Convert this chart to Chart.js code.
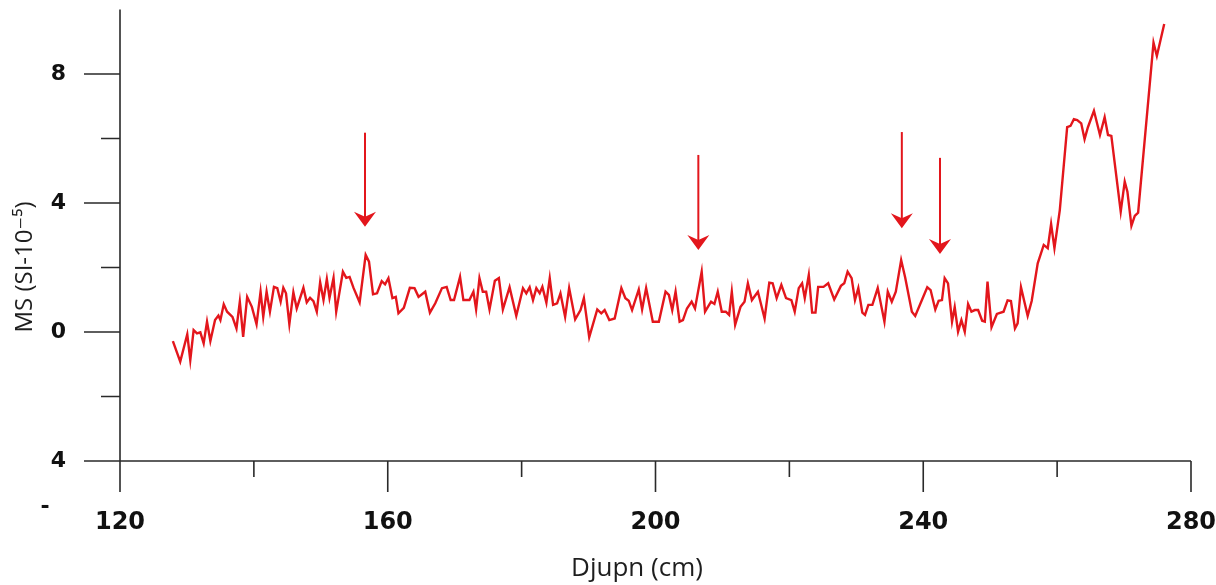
<!DOCTYPE html>
<html><head><meta charset="utf-8">
<script src="https://cdn.jsdelivr.net/npm/chart.js@4.4.1/dist/chart.umd.min.js"></script>
<style>html,body{margin:0;padding:0;background:#fff}#wrap{width:1216px;height:585px;position:relative}canvas{display:block}</style>
</head><body><div id="wrap"><canvas id="c" width="1216" height="585"></canvas></div>
<script>
// Depth (cm) and magnetic susceptibility values
const depth=[127.9,129.0,130.05,130.5,131.0,131.5,132.0,132.5,133.0,133.5,134.2,134.7,135.0,135.5,136.0,136.8,137.4,137.9,138.4,139.0,139.7,140.4,141.0,141.4,141.9,142.4,143.0,143.5,144.0,144.4,144.8,145.3,145.9,146.4,147.4,147.9,148.4,148.9,149.4,149.9,150.4,150.9,151.3,151.9,152.3,153.3,153.8,154.3,154.9,155.8,156.7,157.2,157.8,158.4,159.1,159.6,160.1,160.7,161.2,161.6,162.4,163.3,164.0,
164.6,165.6,166.3,167.1,168.1,168.8,169.4,169.9,170.8,171.3,172.2,172.8,173.2,173.7,174.2,174.7,175.2,176.0,176.6,177.2,178.2,179.2,180.2,180.7,181.2,181.7,182.2,182.7,183.1,183.7,184.2,184.7,185.3,185.8,186.5,187.1,188.0,188.8,189.3,190.1,191.3,191.9,192.4,193.1,193.9,194.9,195.5,196.0,196.5,197.5,198.0,198.6,199.6,200.5,
201.5,202.0,202.5,203.0,203.6,204.1,204.7,205.4,205.9,206.9,207.4,208.3,208.8,209.3,209.9,210.5,211.0,211.4,211.9,212.7,213.3,213.8,214.4,215.3,216.3,217.0,217.5,218.1,218.8,219.5,220.3,220.8,221.4,221.9,222.3,222.9,223.4,223.9,224.3,225.1,225.8,226.7,227.7,228.2,228.7,229.3,229.8,230.3,230.9,231.3,231.8,232.4,233.2,234.2,234.7,235.3,235.9,236.7,237.3,
238.3,238.8,239.8,240.6,241.1,241.8,242.3,242.8,243.2,243.7,244.3,244.7,245.2,245.7,246.2,246.7,247.2,247.7,248.2,248.8,249.2,249.6,250.2,251.0,252.0,252.6,253.1,253.7,254.1,254.6,255.6,256.2,
257.1,258.0,258.6,259.1,259.6,260.4,261.5,262.0,262.5,263.0,263.6,264.1,264.6,265.5,266.4,267.1,267.6,268.1,269.5,270.1,270.5,271.1,271.6,272.1,274.4,274.9,276.0];
const ms=[-0.28,-0.92,-0.07,-0.87,0.06,-0.04,-0.01,-0.35,0.32,-0.28,0.37,0.51,0.37,0.86,0.63,0.47,0.11,0.94,-0.15,1.09,0.78,0.24,1.25,0.47,1.25,0.63,1.40,1.36,0.94,1.37,1.20,0.24,1.23,0.73,1.37,0.92,1.06,0.96,0.63,1.54,0.99,1.64,1.06,1.68,0.63,1.87,1.68,1.71,1.36,0.92,2.39,2.18,1.17,1.20,1.58,1.48,1.67,1.05,1.09,0.58,0.75,1.37,1.36,
1.09,1.25,0.60,0.89,1.36,1.40,0.99,0.99,1.71,0.99,0.99,1.25,0.70,1.67,1.25,1.25,0.70,1.59,1.67,0.70,1.39,0.50,1.36,1.20,1.39,0.99,1.36,1.20,1.40,0.91,1.67,0.84,0.89,1.20,0.47,1.36,0.39,0.68,1.05,-0.16,0.70,0.58,0.68,0.37,0.42,1.36,1.05,0.97,0.68,1.32,0.70,1.36,0.32,0.32,
1.25,1.15,0.68,1.25,0.32,0.37,0.73,0.94,0.73,1.87,0.63,0.94,0.87,1.25,0.63,0.63,0.53,1.25,0.22,0.78,0.94,1.51,0.99,1.25,0.42,1.53,1.51,1.05,1.46,1.05,0.99,0.63,1.36,1.51,1.05,1.77,0.60,0.60,1.40,1.40,1.51,1.01,1.43,1.51,1.87,1.67,0.99,1.36,0.60,0.53,0.84,0.84,1.36,0.32,1.25,0.94,1.25,2.23,1.69,
0.63,0.50,0.99,1.39,1.30,0.70,0.97,0.99,1.67,1.51,0.32,0.77,0.01,0.37,0.01,0.87,0.63,0.68,0.68,0.35,0.32,1.56,0.15,0.56,0.63,0.98,0.96,0.11,0.27,1.39,0.50,0.96,
2.13,2.70,2.60,3.35,2.60,3.78,6.35,6.39,6.60,6.57,6.47,5.98,6.35,6.86,6.11,6.66,6.11,6.08,3.73,4.66,4.35,3.29,3.60,3.70,8.97,8.56,9.55];

const xTicks=[120,160,200,240,280];
const xMinorTicks=[140,180,220,260];
const yTicks=[-4,0,4,8];
const yTickLabels=['4','0','4','8'];
const yMinorTicks=[-2,2,6];
const arrowDepth=[156.6,206.4,236.8,242.5];
const arrowTop=[6.18,5.49,6.20,5.40];
const arrowTip=[3.26,2.54,3.22,2.42];
const xTitle='Djupn (cm)';
const yTitle='MS (SI-10⁻⁵)';
const strayMark='-';

const RED='#e3161c';
const AXIS='#2a2a2a';
const TICKFONT='"DejaVu Sans", "Liberation Sans", sans-serif';

const decor={
  id:'decor',
  afterDraw(chart){
    const {ctx}=chart;
    const xs=chart.scales.x, ys=chart.scales.y;
    const ax=xs.getPixelForValue(xs.min);
    const ay=ys.getPixelForValue(ys.min);
    ctx.save();
    ctx.strokeStyle=AXIS; ctx.lineWidth=1.6; ctx.lineCap='butt';
    ctx.beginPath();
    ctx.moveTo(ax, ys.getPixelForValue(ys.max)); ctx.lineTo(ax, ay+31);
    ctx.moveTo(ax-36, ay); ctx.lineTo(xs.getPixelForValue(xs.max), ay);
    yTicks.forEach(v=>{const p=ys.getPixelForValue(v); ctx.moveTo(ax-36,p); ctx.lineTo(ax,p);});
    yMinorTicks.forEach(v=>{const p=ys.getPixelForValue(v); ctx.moveTo(ax-19,p); ctx.lineTo(ax,p);});
    xTicks.forEach(v=>{const p=xs.getPixelForValue(v); ctx.moveTo(p,ay); ctx.lineTo(p,ay+31);});
    xMinorTicks.forEach(v=>{const p=xs.getPixelForValue(v); ctx.moveTo(p,ay); ctx.lineTo(p,ay+16);});
    ctx.stroke();

    ctx.strokeStyle=RED; ctx.fillStyle=RED; ctx.lineWidth=2;
    arrowDepth.forEach((d,i)=>{
      const x=xs.getPixelForValue(d);
      const y0=ys.getPixelForValue(arrowTop[i]);
      const y1=ys.getPixelForValue(arrowTip[i]);
      ctx.beginPath(); ctx.moveTo(x,y0); ctx.lineTo(x,y1-8); ctx.stroke();
      ctx.beginPath();
      ctx.moveTo(x,y1); ctx.lineTo(x-11,y1-15); ctx.lineTo(x,y1-10); ctx.lineTo(x+11,y1-15); ctx.closePath();
      ctx.fill();
    });

    ctx.fillStyle='#1e1e1e';
    ctx.textAlign='center'; ctx.textBaseline='middle';
    ctx.font='26px "Open Sans", "DejaVu Sans", sans-serif';
    ctx.fillText(xTitle, 637, 569);
    ctx.save();
    ctx.translate(25, 267); ctx.rotate(-Math.PI/2);
    ctx.font='24px "Open Sans", "DejaVu Sans", sans-serif';
    ctx.fillText(yTitle, 0, 0);
    ctx.restore();
    ctx.font='bold 22px '+TICKFONT;
    ctx.fillStyle='#111';
    ctx.fillText(strayMark, 45, 507);
    ctx.restore();
  }
};

new Chart(document.getElementById('c'),{
  type:'scatter',
  data:{datasets:[{
    data:depth.map((d,i)=>({x:d,y:ms[i]})),
    showLine:true, borderColor:RED, borderWidth:2.4, pointRadius:0, tension:0, fill:false
  }]},
  options:{
    responsive:false, animation:false, devicePixelRatio:1,
    layout:{padding:{top:9.5,right:25,left:0,bottom:0}},
    plugins:{legend:{display:false},tooltip:{enabled:false}},
    scales:{
      x:{type:'linear',min:120,max:280,
        afterBuildTicks:s=>{s.ticks=xTicks.map(v=>({value:v}));},
        afterFit:s=>{s.height=124;s.paddingLeft=0;s.paddingRight=0;},
        grid:{display:false,drawTicks:false},border:{display:false},
        ticks:{padding:47,color:'#111',font:{family:TICKFONT,size:24,weight:'bold'},maxRotation:0,autoSkip:false}
      },
      y:{type:'linear',min:-4,max:10,
        afterBuildTicks:s=>{s.ticks=yTicks.map(v=>({value:v}));},
        afterFit:s=>{s.width=120;s.paddingTop=0;s.paddingBottom=0;},
        grid:{display:false,drawTicks:false},border:{display:false},
        ticks:{padding:54,color:'#111',font:{family:TICKFONT,size:22,weight:'bold'},
          callback:(v)=>{const i=yTicks.indexOf(v);return i>=0?yTickLabels[i]:'';}}
      }
    }
  },
  plugins:[decor]
});
</script></body></html>
